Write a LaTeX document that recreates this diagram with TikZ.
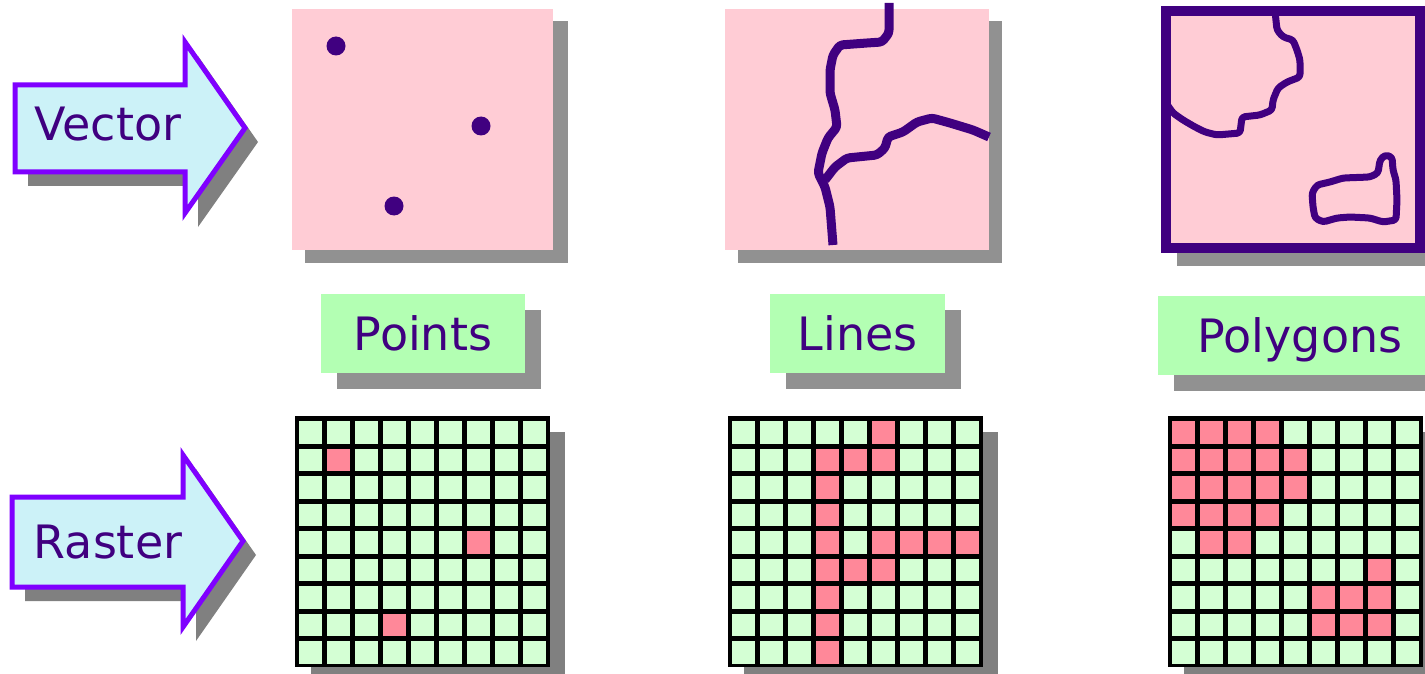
\documentclass[tikz,border=0pt]{standalone}
\usepackage{fontspec}
\setmainfont{DejaVu Sans}
\usepackage{xcolor}
\usepackage{tikz}
\usetikzlibrary{positioning,shadows}

\definecolor{ink}{HTML}{400080}
\definecolor{arrowedge}{HTML}{7F00FF}
\definecolor{arrowfill}{HTML}{CCF2F8}
\definecolor{pinkbg}{HTML}{FFCCD5}
\definecolor{labelgreen}{HTML}{B3FFB3}
\definecolor{cellgreen}{HTML}{D4FFD4}
\definecolor{cellred}{HTML}{FF8899}
\definecolor{shadowA}{HTML}{808080}
\definecolor{shadowB}{HTML}{919191}

% raster grid: #1 = top left corner, #2 = list of row/col red cells
\newcommand\rastergrid[2]{%
  \begin{scope}[shift={#1}]
    \fill[shadowA] (16,16) rectangle (270,262);
    \fill[black] (0,0) rectangle (255,251);
    \foreach \col in {0,...,8}
      \foreach \row in {0,...,8}
        \fill[cellgreen] ({4+28*\col},{5+27.5*\row}) rectangle +(23,22.5);
    \foreach \row/\col in {#2}
      \fill[cellred] ({4+28*\col},{5+27.5*\row}) rectangle +(23,22.5);
  \end{scope}}

\begin{document}
\begin{tikzpicture}[x=1pt,y=-1pt,
  every node/.style={font=\fontsize{46}{50}\selectfont,text=ink,inner sep=0pt,text height=34pt,text depth=0pt},
  arrowbox/.style={draw=arrowedge,line width=5pt,fill=arrowfill,line join=miter},
  sheet/.style={fill=pinkbg},
  feature/.style={draw=ink,line width=9pt,line join=round,rounded corners=3pt},
  tag/.style={fill=labelgreen,minimum height=79pt,drop shadow={shadow xshift=16pt,shadow yshift=-16pt,fill=shadowB,opacity=1}}]
\useasboundingbox (0,0) rectangle (1425,674);
\clip (0,0) rectangle (1425,674);

% arrows
\fill[shadowA] (28,99) -- (198,99) -- (198,56) -- (258,142) -- (198,227) -- (198,186) -- (28,186) -- cycle;
\draw[arrowbox] (15,85) -- (185,85) -- (185,42) -- (245,128) -- (185,213) -- (185,172) -- (15,172) -- cycle;
\node (vec) at (108,123.5) {Vector};
\fill[shadowA] (25,511) -- (196,511) -- (196,469) -- (256,555) -- (196,641) -- (196,601) -- (25,601) -- cycle;
\draw[arrowbox] (12,497) -- (183,497) -- (183,455) -- (243,541) -- (183,627) -- (183,587) -- (12,587) -- cycle;
\node (ras) at (108,541.5) {Raster};

% vector sheets
\fill[shadowB] (305,21) rectangle (568,263);
\fill[sheet] (292,9) rectangle (553,250);
\foreach \p in {(336,46),(481,126),(394,206)}
  \fill[ink] \p circle (9.5);

\fill[shadowB] (738,21) rectangle (1002,263);
\fill[sheet] (725,9) rectangle (989,250);
\draw[feature] (889,3) -- (889,33) -- (882,42) -- (867,43) -- (840,45) -- (833,55) -- (830,70) -- (830,93) -- (835,110) -- (837,127) -- (828,138) -- (822,153) -- (818,173) -- (825,187) -- (830,207) -- (833,245);
\draw[feature] (825,180) -- (835,167) -- (847,158) -- (877,155) -- (885,148) -- (888,137) -- (903,132) -- (917,122) -- (932,118) -- (950,123) -- (973,130) -- (989,137);

\fill[shadowB] (1177,253) rectangle (1440,266);
\draw[ink,line width=10pt,fill=pinkbg] (1166,11) rectangle (1420,248);
\draw[feature,line width=7pt] (1275,11) -- (1277,30) -- (1283,37) -- (1293,40) -- (1297,50) -- (1300,60) -- (1300,77) -- (1287,82) -- (1278,88) -- (1273,100) -- (1272,110) -- (1260,115) -- (1242,117) -- (1240,133) -- (1217,135) -- (1205,132) -- (1195,127) -- (1183,120) -- (1173,113) -- (1166,103);
\draw[feature,line width=7pt] (1385,155) -- (1392,157) -- (1393,170) -- (1396,180) -- (1397,200) -- (1396,220) -- (1383,222) -- (1370,218) -- (1350,217) -- (1337,218) -- (1323,222) -- (1315,218) -- (1313,207) -- (1312,193) -- (1317,185) -- (1330,182) -- (1343,178) -- (1370,177) -- (1378,173) -- (1380,160) -- cycle;

% labels
\node[tag,minimum width=204pt] (points) at (423,333) {Points};
\node[tag,minimum width=175pt] (lines) at (857.5,333) {Lines};
\node[tag,minimum width=284pt] (polygons) at (1300,335) {Polygons};

% raster grids
\rastergrid{(295,416)}{1/1,4/6,7/3}
\rastergrid{(728,416)}{0/5,1/3,1/4,1/5,2/3,3/3,4/3,4/5,4/6,4/7,4/8,5/3,5/4,5/5,6/3,7/3,8/3}
\rastergrid{(1168,416)}{0/0,0/1,0/2,0/3,1/0,1/1,1/2,1/3,1/4,2/0,2/1,2/2,2/3,2/4,3/0,3/1,3/2,3/3,4/1,4/2,5/7,6/5,6/6,6/7,7/5,7/6,7/7}
\end{tikzpicture}
\end{document}
